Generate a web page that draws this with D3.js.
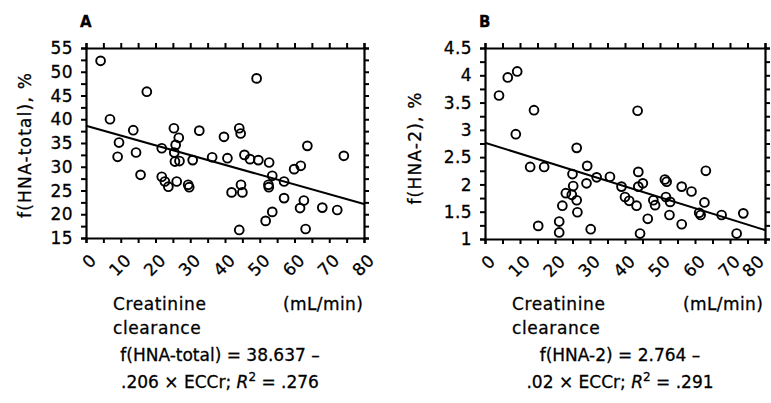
<!DOCTYPE html>
<html>
<head>
<meta charset="utf-8">
<script src="https://cdn.jsdelivr.net/npm/d3@7"></script>
<style>
  body { margin: 0; background: #fff; }
  svg text { font-family: "DejaVu Sans", "Liberation Sans", Arial, sans-serif; fill: #000; stroke: #000; stroke-width: 0.3px; }
</style>
</head>
<body>
<div id="chart"></div>
<script>
// Panel A: creatinine clearance vs f(HNA-total)
const eccrA = [4.2, 17.5, 49.1, 6.9, 13.6, 9.5, 9.1, 14.4, 15.7, 21.8, 21.8, 22.7, 23.7, 25.3, 26.7, 25.8, 25.4, 25.6, 26.9, 26.1,
  29.4, 29.7, 30.7, 32.6, 36.3, 39.7, 40.7, 41.9, 44.1, 44.5, 44.6, 45.0, 44.1, 45.6, 47.2, 49.6, 52.7, 53.6, 52.5, 52.6,
  51.7, 53.6, 57.0, 57.0, 59.9, 61.8, 63.7, 62.7, 61.6, 63.2, 68.0, 72.3, 74.2];
const hnaTotal = [52.3, 45.8, 48.6, 40.0, 37.7, 35.1, 32.1, 33.0, 28.3, 33.9, 27.9, 26.9, 25.8, 38.1, 36.1, 34.6, 33.0, 31.1, 31.2, 26.9,
  26.2, 25.7, 31.4, 37.6, 32.0, 36.3, 31.8, 24.6, 38.1, 37.0, 26.2, 24.6, 16.7, 32.5, 31.6, 31.4, 30.9, 28.1, 26.2, 25.7,
  18.6, 20.5, 26.9, 23.4, 29.5, 30.2, 34.4, 22.9, 21.3, 16.9, 21.4, 20.9, 32.3];

// Panel B: creatinine clearance vs f(HNA-2)
const eccrB = [4.0, 6.5, 9.2, 8.8, 14.0, 12.9, 16.9, 15.2, 21.2, 21.2, 22.1, 23.1, 24.8, 26.2, 26.4, 25.2, 25.0, 26.2, 29.2, 29.0,
  30.2, 31.9, 35.7, 39.0, 40.0, 41.2, 43.3, 43.6, 43.8, 43.8, 45.1, 44.3, 46.5, 48.1, 48.6, 51.4, 51.9, 51.7, 52.9, 52.7,
  56.2, 56.2, 59.0, 61.2, 61.6, 62.7, 63.1, 67.6, 71.9, 73.8];
const hna2 = [3.63, 3.96, 4.07, 2.92, 3.36, 2.32, 2.32, 1.24, 1.32, 1.12, 1.61, 1.84, 1.81, 1.71, 1.49, 1.97, 2.19, 2.67, 2.34, 2.02,
  1.18, 2.13, 2.14, 1.96, 1.77, 1.70, 1.61, 3.35, 2.23, 1.96, 2.02, 1.10, 1.37, 1.71, 1.62, 2.09, 2.05, 1.77, 1.68, 1.44,
  1.96, 1.27, 1.87, 1.48, 1.44, 1.67, 2.25, 1.44, 1.10, 1.47];

const xTicks = [0, 10, 20, 30, 40, 50, 60, 70, 80];
const yTicksA = [15, 20, 25, 30, 35, 40, 45, 50, 55];
const yTicksB = [1, 1.5, 2, 2.5, 3, 3.5, 4, 4.5];

// regression fits printed under each panel
const fitA = { intercept: 38.637, slope: -0.206, r2: ".276", lhs: "f(HNA-total) = 38.637 \u2013", coef: ".206" };
const fitB = { intercept: 2.764, slope: -0.02, r2: ".291", lhs: "f(HNA-2) = 2.764 \u2013", coef: ".02" };

const width = 771, height = 403;

const svg = d3.select("#chart").append("svg")
  .attr("width", width)
  .attr("height", height);

function drawPanel(opts) {
  const { xs, ys, yDomain, yTicks, yMinor, xMinor, box, fit, letter, yTitle, titleX, titleY, eqX, unitsX } = opts;

  const x = d3.scaleLinear().domain([0, 80]).range([box.left, box.right]);
  const y = d3.scaleLinear().domain(yDomain).range([box.bottom, box.top]);

  const g = svg.append("g");

  // tick marks on all four sides, pointing outward
  const minorX = d3.range(0, 80.01, xMinor);
  const minorY = d3.range(yDomain[0], yDomain[1] + 1e-6, yMinor);

  const axes = [
    d3.axisBottom(x).tickValues(minorX).tickSize(5).tickFormat(""),
    d3.axisTop(x).tickValues(minorX).tickSize(5).tickFormat(""),
    d3.axisLeft(y).tickValues(minorY).tickSize(5).tickFormat(""),
    d3.axisRight(y).tickValues(minorY).tickSize(5).tickFormat("")
  ];
  const shifts = [
    `translate(0,${box.bottom})`,
    `translate(0,${box.top})`,
    `translate(${box.left},0)`,
    `translate(${box.right},0)`
  ];
  axes.forEach((a, i) => {
    const ax = g.append("g").attr("transform", shifts[i]).call(a);
    ax.select(".domain").attr("stroke", "#000").attr("stroke-width", 2.2);
    ax.selectAll(".tick line").attr("stroke", "#000").attr("stroke-width", 2);
  });

  // y tick labels
  g.selectAll(".ylab")
    .data(yTicks)
    .join("text")
    .attr("class", "ylab")
    .attr("x", box.left - 13)
    .attr("y", (d) => y(d))
    .attr("dy", "0.36em")
    .attr("text-anchor", "end")
    .attr("font-size", "17px")
    .attr("letter-spacing", "0.4px")
    .text((d) => d);

  // x tick labels, rotated, anchored at their upper-right end
  g.selectAll(".xlab")
    .data(xTicks)
    .join("text")
    .attr("class", "xlab")
    .attr("transform", (d) => `translate(${Math.min(x(d) + 7, width - 10)},${box.bottom + 19}) rotate(-45)`)
    .attr("dy", "0.36em")
    .attr("text-anchor", "end")
    .attr("font-size", "17px")
    .attr("letter-spacing", "0.4px")
    .text((d) => d);

  // regression line
  g.append("line")
    .attr("x1", x(0))
    .attr("y1", y(fit.intercept))
    .attr("x2", x(80))
    .attr("y2", y(fit.intercept + fit.slope * 80))
    .attr("stroke", "#000")
    .attr("stroke-width", 2);

  // points
  g.selectAll("circle")
    .data(xs.map((d, i) => [d, ys[i]]))
    .join("circle")
    .attr("cx", (d) => x(d[0]))
    .attr("cy", (d) => y(d[1]))
    .attr("r", 4.4)
    .attr("fill", "none")
    .attr("stroke", "#000")
    .attr("stroke-width", 1.9);

  // panel letter
  g.append("text")
    .attr("x", box.left - 6)
    .attr("y", 27)
    .attr("font-size", "15px")
    .attr("font-weight", "bold")
    .text(letter);

  // y axis title
  g.append("text")
    .attr("transform", `translate(${titleX},${titleY}) rotate(-90)`)
    .attr("dy", "0.36em")
    .attr("text-anchor", "middle")
    .attr("font-size", "17px")
    .attr("letter-spacing", "1.2px")
    .text(yTitle);

  // x axis title
  const labelLeft = box.left + 27;
  g.append("text")
    .attr("x", labelLeft)
    .attr("y", 310)
    .attr("font-size", "17px")
    .attr("letter-spacing", "0.6px")
    .text("Creatinine");
  g.append("text")
    .attr("x", labelLeft)
    .attr("y", 334)
    .attr("font-size", "17px")
    .attr("letter-spacing", "0.6px")
    .text("clearance");
  g.append("text")
    .attr("x", unitsX)
    .attr("y", 310)
    .attr("font-size", "17px")
    .attr("letter-spacing", "0.4px")
    .text("(mL/min)");

  // regression equation
  g.append("text")
    .attr("x", eqX)
    .attr("y", 361)
    .attr("text-anchor", "middle")
    .attr("font-size", "17px")
    .text(fit.lhs);

  const eq2 = g.append("text")
    .attr("x", eqX)
    .attr("y", 388)
    .attr("text-anchor", "middle")
    .attr("font-size", "17px");
  eq2.append("tspan").text(`${fit.coef} \u00d7 ECCr; `);
  eq2.append("tspan").attr("font-style", "italic").text("R");
  eq2.append("tspan").attr("dy", "-7").attr("font-size", "12px").text("2");
  eq2.append("tspan").attr("dy", "7").text(` = ${fit.r2}`);
}

drawPanel({
  xs: eccrA, ys: hnaTotal,
  yDomain: [15, 55], yTicks: yTicksA, yMinor: 2.5, xMinor: 5,
  box: { left: 86, right: 364, top: 48, bottom: 238 },
  fit: fitA, letter: "A", yTitle: "f(HNA-total), %",
  titleX: 25, titleY: 145, eqX: 220, unitsX: 283
});

drawPanel({
  xs: eccrB, ys: hna2,
  yDomain: [1, 4.5], yTicks: yTicksB, yMinor: 0.25, xMinor: 5,
  box: { left: 485, right: 765, top: 48, bottom: 239 },
  fit: fitB, letter: "B", yTitle: "f(HNA-2), %",
  titleX: 415, titleY: 148, eqX: 620, unitsX: 683
});
</script>
</body>
</html>
